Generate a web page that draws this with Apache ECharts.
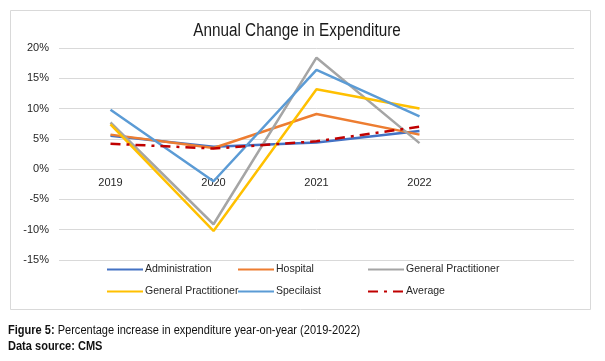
<!DOCTYPE html>
<html>
<head>
<meta charset="utf-8">
<script src="https://cdn.jsdelivr.net/npm/echarts@6/dist/echarts.min.js"></script>
<style>
html,body{margin:0;padding:0;background:#fff;}
#chart{width:605px;height:361px;}
</style>
</head>
<body>
<div id="chart"></div>
<script>
// ---- data ----
var years = ['2019', '2020', '2021', '2022', ''];
var administration = [5.5, 3.7, 4.4, 6.3];
var hospital = [5.7, 3.5, 9.1, 5.7];
var generalPractitioner = [7.7, -9.1, 18.4, 4.3];
var generalPractitioner2 = [7.4, -10.2, 13.2, 10.0];
var specialist = [9.8, -2.0, 16.4, 8.7];
var average = [4.2, 3.4, 4.6, 7.0];
var yTicks = { min: -15, max: 20, interval: 5 };
var titleText = 'Annual Change in Expenditure';
var captionBold = 'Figure 5:';
var captionText = ' Percentage increase in expenditure year-on-year (2019-2022)';
var sourceText = 'Data source: CMS';

var FONT = "'Liberation Sans', Arial, sans-serif";

var seriesDefs = [
  { name: 'Administration', label: 'Administration', data: administration, color: '#4472C4', type: 'solid' },
  { name: 'Hospital', label: 'Hospital', data: hospital, color: '#ED7D31', type: 'solid' },
  { name: 'General Practitioner', label: 'General Practitioner', data: generalPractitioner, color: '#A5A5A5', type: 'solid' },
  { name: 'General Practitioner (2)', label: 'General Practitioner', data: generalPractitioner2, color: '#FFC000', type: 'solid' },
  { name: 'Specialist', label: 'Specilaist', data: specialist, color: '#5B9BD5', type: 'solid' },
  { name: 'Average', label: 'Average', data: average, color: '#C00000', type: [10, 6, 3, 6] }
];

var legendPos = [
  [106, 264], [237, 264], [367, 264],
  [106, 286], [237, 286], [367, 286]
];

var chart = echarts.init(document.getElementById('chart'), null, { renderer: 'canvas' });

var option = {
  animation: false,
  backgroundColor: '#fff',
  grid: { left: 59, right: 31, top: 48, bottom: 101, containLabel: false },
  xAxis: {
    type: 'category',
    data: years,
    boundaryGap: true,
    offset: 0,
    axisLine: { show: true, onZero: false, lineStyle: { color: '#d9d9d9', width: 1 } },
    axisTick: { show: false },
    axisLabel: { color: '#262626', fontFamily: FONT, fontSize: 11, margin: 8 },
    splitLine: { show: false }
  },
  yAxis: {
    type: 'value',
    min: yTicks.min, max: yTicks.max, interval: yTicks.interval,
    axisLine: { show: false },
    axisTick: { show: false },
    axisLabel: { color: '#262626', fontFamily: FONT, fontSize: 11, margin: 10, formatter: '{value}%' },
    splitLine: { lineStyle: { color: '#d9d9d9', width: 1 } }
  },
  legend: seriesDefs.map(function (s, i) {
    return {
      data: [s.name],
      left: legendPos[i][0],
      top: legendPos[i][1],
      padding: 0,
      itemWidth: 36,
      itemHeight: 14,
      selectedMode: false,
      itemStyle: { opacity: 0 },
      formatter: function () { return s.label; },
      textStyle: { color: '#262626', fontFamily: FONT, fontSize: 10.5, padding: [0, 0, 0, -3] }
    };
  }),
  series: seriesDefs.map(function (s) {
    return {
      name: s.name,
      type: 'line',
      data: s.data,
      symbol: 'none',
      showSymbol: false,
      color: s.color,
      lineStyle: { color: s.color, width: 2.5, type: s.type },
      z: s.name === 'Average' ? 5 : 2
    };
  }),
  graphic: [
    {
      type: 'rect', left: 8, top: 8, z: -1,
      shape: { x: 0, y: 0, width: 580, height: 299 },
      style: { fill: 'none', stroke: '#d9d9d9', lineWidth: 1 }
    },
    {
      type: 'text', x: 297, y: 31, scaleX: 0.85,
      style: { text: titleText, fill: '#1a1a1a', font: '18px ' + FONT, textAlign: 'center', textVerticalAlign: 'middle' }
    },
    {
      type: 'text', x: 8, y: 331, scaleX: 0.92,
      style: {
        text: '{b|' + captionBold + '}{n|' + captionText + '}',
        textVerticalAlign: 'middle',
        rich: {
          b: { fontFamily: FONT, fontSize: 12, fontWeight: 'bold', fill: '#111' },
          n: { fontFamily: FONT, fontSize: 12, fill: '#111' }
        }
      }
    },
    {
      type: 'text', x: 8, y: 347, scaleX: 0.92,
      style: { text: sourceText, font: 'bold 12px ' + FONT, fill: '#111', textVerticalAlign: 'middle' }
    }
  ]
};
chart.setOption(option);

// place the category axis on the zero line of the value axis
var zeroY = chart.convertToPixel({ yAxisIndex: 0 }, 0);
var bottomY = chart.convertToPixel({ yAxisIndex: 0 }, yTicks.min);
chart.setOption({ xAxis: { offset: -(bottomY - zeroY) } });
</script>
</body>
</html>
